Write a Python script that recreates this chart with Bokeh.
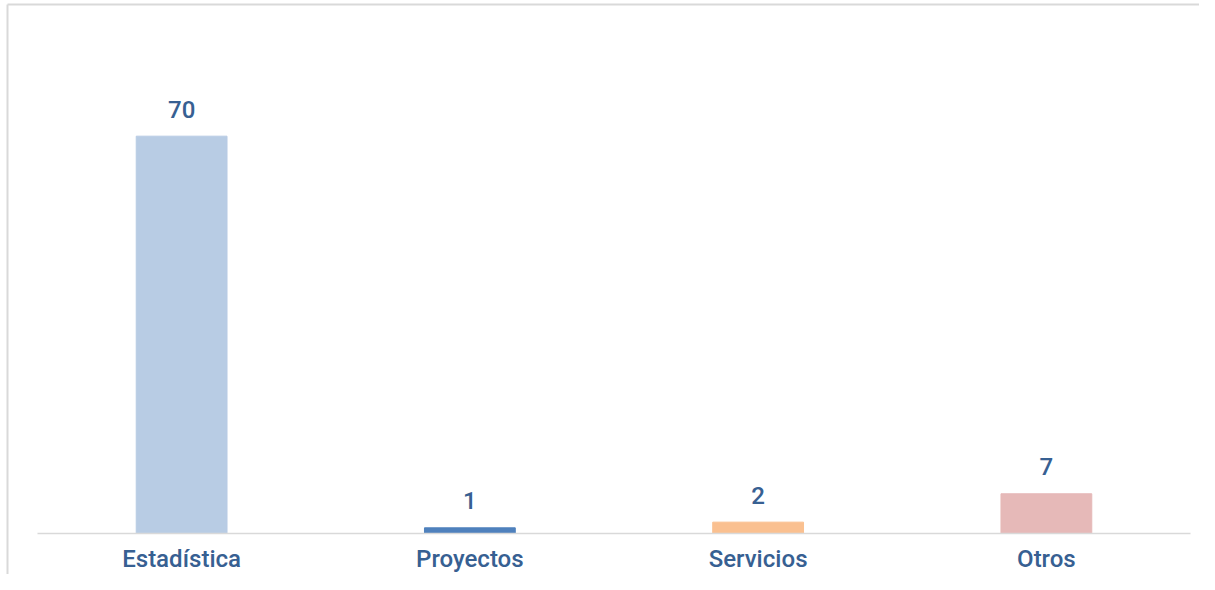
from bokeh.plotting import figure
from bokeh.models import ColumnDataSource, Range1d
from bokeh.core.properties import value
from bokeh.embed import file_html
from bokeh.resources import INLINE

categories = ["Estadística", "Proyectos", "Servicios", "Otros"]
counts = [70, 1, 2, 7]
bar_colors = ["#b8cce4", "#4f81bd", "#fac090", "#e6b9b8"]
labels = [str(v) for v in counts]

TXT = "#376092"
GRID = "#d9d9d9"
FONT = "Roboto Medium"

W, H = 1199, 574
PX_PER_CAT = 288.25      # px per category slot
PX_PER_UNIT = 5.676      # px per count unit
FRAME_LEFT = 37          # px where first category slot begins
BASE_Y = 533             # px of the zero line

xs = [i + 0.5 for i in range(len(categories))]
x0 = -FRAME_LEFT / PX_PER_CAT
x1 = x0 + W / PX_PER_CAT
y1 = BASE_Y / PX_PER_UNIT
y0 = -(H - BASE_Y) / PX_PER_UNIT

src = ColumnDataSource(dict(x=xs, cat=categories, val=counts, color=bar_colors, lab=labels,
                            zero=[0] * len(categories)))

p = figure(
    x_range=Range1d(x0, x1), y_range=Range1d(y0, y1),
    width=W, height=H,
    output_backend="svg", toolbar_location=None,
    min_border=0,
)
p.axis.visible = False
p.grid.visible = False
p.outline_line_color = None

# chart-area border (left and top)
bx = x0 + 7 / PX_PER_CAT
by = y1 - 4 / PX_PER_UNIT
p.line(x=[bx, bx], y=[y0, by], line_color=GRID, line_width=2)
p.line(x=[bx, x1], y=[by, by], line_color=GRID, line_width=2)

p.vbar(x="x", top="val", bottom=0, width=0.315, color="color", source=src)

# baseline
p.line(x=[0, len(categories)], y=[0, 0], line_color=GRID, line_width=1.6)

p.text(x="x", y="val", text="lab", source=src,
       text_align="center", text_baseline="middle", y_offset=-27,
       text_font=value(FONT), text_font_size="24px", text_color=TXT)
p.text(x="x", y="zero", text="cat", source=src,
       text_align="center", text_baseline="middle", y_offset=25,
       text_font=value(FONT), text_font_size="24px", text_color=TXT)

open("out.html", "w").write(file_html(p, INLINE))
